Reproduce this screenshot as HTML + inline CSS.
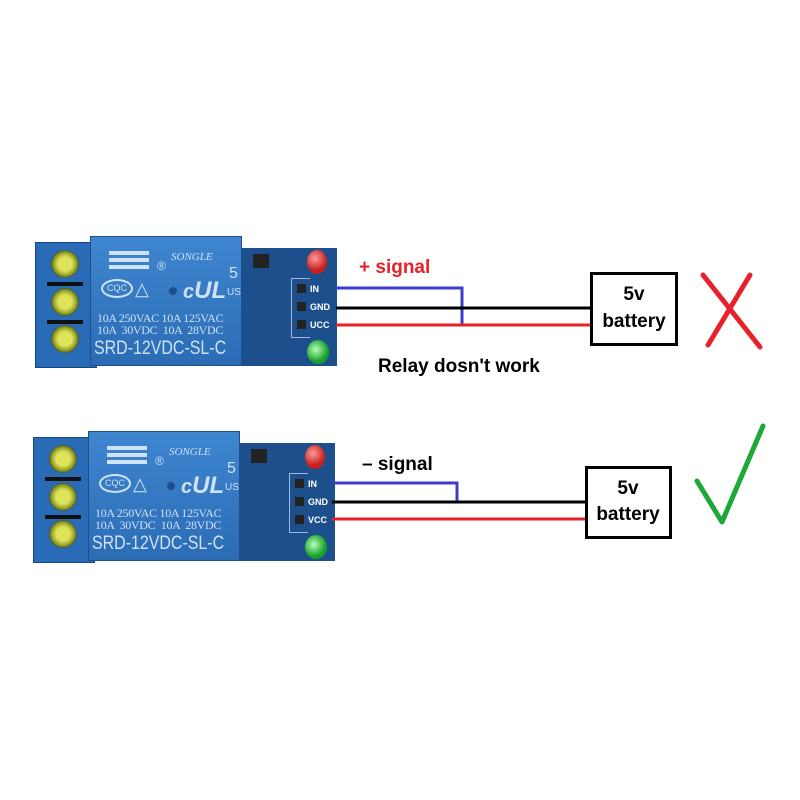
<!DOCTYPE html>
<html><head><meta charset="utf-8"><style>
body{margin:0;width:800px;height:800px;background:#fff;position:relative;overflow:hidden;font-family:"Liberation Sans",sans-serif}
.a{position:absolute}
.relay{position:absolute;width:305px;height:132px}
.pcb{left:200px;top:12px;width:102px;height:118px;background:#1d4f8c}
.term{left:0;top:6px;width:60px;height:124px;background:#2a6bb8;border:1px solid #15467f}
.screw{left:16px;width:28px;height:28px;border-radius:50%;background:radial-gradient(circle,#dfe35a 0 35%,#8a9a22 60%,#333 75%)}
.blk{left:55px;top:0;width:150px;height:128px;background:linear-gradient(#3f86d0,#2b6cb5);border:1px solid #1b4f8d;color:#cfe2f7;overflow:hidden}
.blk div{white-space:nowrap}
.pin{width:9px;height:9px;background:#222;left:262px}
.lab{font-size:9px;font-weight:bold;color:#fff;left:275px}
.hdr{left:256px;top:42px;width:18px;height:58px;border:1px solid #9fb8d8;border-right:none}
.sep{left:12px;width:36px;height:4px;background:#111}
</style></head><body>

<!-- TOP RELAY -->
<div class="relay" style="left:35px;top:236px">
  <div class="a pcb"></div>
  <div class="a term"></div>
  <div class="a sep" style="top:46px"></div><div class="a sep" style="top:84px"></div>
  <div class="a screw" style="top:14px"></div>
  <div class="a screw" style="top:52px"></div>
  <div class="a screw" style="top:89px"></div>
  <div class="a blk">
    <div class="a" style="left:18px;top:14px;width:40px;height:4px;background:#cfe2f7;box-shadow:0 7px #cfe2f7,0 14px #cfe2f7"></div>
    <div class="a" style="left:66px;top:22px;font-size:12px">®</div>
    <div class="a" style="left:80px;top:14px;font-size:11px;font-style:italic;font-family:'Liberation Serif',serif">SONGLE</div>
    <div class="a" style="left:10px;top:42px;width:28px;height:15px;border:2px solid #cfe2f7;border-radius:50%;font-size:9px;text-align:center;line-height:15px">CQC</div>
    <div class="a" style="left:44px;top:42px;font-size:18px">△</div>
    <div class="a" style="left:78px;top:50px;width:8px;height:8px;border-radius:50%;background:#1d4f8c"></div>
    <div class="a" style="left:92px;top:40px;font-size:20px;font-weight:bold;font-style:italic">c<span style="font-size:24px">UL</span></div>
    <div class="a" style="left:138px;top:28px;font-size:16px">5</div>
    <div class="a" style="left:136px;top:50px;font-size:10px">US</div>
    <div class="a" style="left:6px;top:75px;font-size:12px;font-family:'Liberation Serif',serif;line-height:12px;letter-spacing:-0.3px">10A 250VAC 10A 125VAC<br>10A &nbsp;30VDC &nbsp;10A &nbsp;28VDC</div>
    <div class="a" style="left:3px;top:101px;font-size:19px;transform:scaleX(0.84);transform-origin:left">SRD-12VDC-SL-C</div>
  </div>
  <div class="a" style="left:218px;top:18px;width:16px;height:14px;background:#222"></div>
  <div class="a" style="left:272px;top:14px;width:20px;height:24px;border-radius:50%;background:radial-gradient(circle at 40% 35%,#ff9a9a,#c8201f 60%)"></div>
  <div class="a" style="left:272px;top:104px;width:22px;height:24px;border-radius:50%;background:radial-gradient(circle at 40% 40%,#b8ffb8,#17a02a 60%)"></div>
  <div class="a hdr"></div>
  <div class="a pin" style="top:48px"></div><div class="a pin" style="top:66px"></div><div class="a pin" style="top:84px"></div>
  <div class="a lab" style="top:48px">IN</div><div class="a lab" style="top:66px">GND</div><div class="a lab" style="top:84px">UCC</div>
</div>

<!-- BOTTOM RELAY -->
<div class="relay" style="left:33px;top:431px">
  <div class="a pcb"></div>
  <div class="a term"></div>
  <div class="a sep" style="top:46px"></div><div class="a sep" style="top:84px"></div>
  <div class="a screw" style="top:14px"></div>
  <div class="a screw" style="top:52px"></div>
  <div class="a screw" style="top:89px"></div>
  <div class="a blk">
    <div class="a" style="left:18px;top:14px;width:40px;height:4px;background:#cfe2f7;box-shadow:0 7px #cfe2f7,0 14px #cfe2f7"></div>
    <div class="a" style="left:66px;top:22px;font-size:12px">®</div>
    <div class="a" style="left:80px;top:14px;font-size:11px;font-style:italic;font-family:'Liberation Serif',serif">SONGLE</div>
    <div class="a" style="left:10px;top:42px;width:28px;height:15px;border:2px solid #cfe2f7;border-radius:50%;font-size:9px;text-align:center;line-height:15px">CQC</div>
    <div class="a" style="left:44px;top:42px;font-size:18px">△</div>
    <div class="a" style="left:78px;top:50px;width:8px;height:8px;border-radius:50%;background:#1d4f8c"></div>
    <div class="a" style="left:92px;top:40px;font-size:20px;font-weight:bold;font-style:italic">c<span style="font-size:24px">UL</span></div>
    <div class="a" style="left:138px;top:28px;font-size:16px">5</div>
    <div class="a" style="left:136px;top:50px;font-size:10px">US</div>
    <div class="a" style="left:6px;top:75px;font-size:12px;font-family:'Liberation Serif',serif;line-height:12px;letter-spacing:-0.3px">10A 250VAC 10A 125VAC<br>10A &nbsp;30VDC &nbsp;10A &nbsp;28VDC</div>
    <div class="a" style="left:3px;top:101px;font-size:19px;transform:scaleX(0.84);transform-origin:left">SRD-12VDC-SL-C</div>
  </div>
  <div class="a" style="left:218px;top:18px;width:16px;height:14px;background:#222"></div>
  <div class="a" style="left:272px;top:14px;width:20px;height:24px;border-radius:50%;background:radial-gradient(circle at 40% 35%,#ff9a9a,#c8201f 60%)"></div>
  <div class="a" style="left:272px;top:104px;width:22px;height:24px;border-radius:50%;background:radial-gradient(circle at 40% 40%,#b8ffb8,#17a02a 60%)"></div>
  <div class="a hdr"></div>
  <div class="a pin" style="top:48px"></div><div class="a pin" style="top:66px"></div><div class="a pin" style="top:84px"></div>
  <div class="a lab" style="top:48px">IN</div><div class="a lab" style="top:66px">GND</div><div class="a lab" style="top:84px">VCC</div>
</div>

<svg class="a" style="left:0;top:0" width="800" height="800">
  <g fill="none" stroke-width="3">
    <polyline points="336,288 462,288 462,325" stroke="#3c3cc8"/>
    <line x1="336" y1="308" x2="591" y2="308" stroke="#000"/>
    <line x1="336" y1="325" x2="591" y2="325" stroke="#e8202a"/>
    <rect x="591.5" y="273.5" width="85" height="71" stroke="#000"/>
    <polyline points="332,483 457,483 457,502" stroke="#3c3cc8"/>
    <line x1="332" y1="502" x2="586" y2="502" stroke="#000"/>
    <line x1="332" y1="519" x2="586" y2="519" stroke="#e8202a"/>
    <rect x="586.5" y="467.5" width="84" height="70" stroke="#000"/>
  </g>
  <g stroke="#e8202a" stroke-width="5" stroke-linecap="round">
    <line x1="703" y1="275" x2="760" y2="347"/>
    <line x1="750" y1="275" x2="708" y2="345"/>
  </g>
  <polyline points="697,481 722,522 763,426" fill="none" stroke="#1fa83a" stroke-width="5" stroke-linecap="round" stroke-linejoin="round"/>
  <g font-family="Liberation Sans" font-weight="bold" text-anchor="middle" font-size="19">
    <text x="634" y="300">5v</text><text x="634" y="327">battery</text>
    <text x="628" y="494">5v</text><text x="628" y="520">battery</text>
  </g>
  <text x="359" y="273" font-family="Liberation Sans" font-weight="bold" font-size="19" fill="#e8202a">+ signal</text>
  <text x="362" y="470" font-family="Liberation Sans" font-weight="bold" font-size="19">– signal</text>
  <text x="378" y="372" font-family="Liberation Sans" font-weight="bold" font-size="19">Relay dosn't work</text>
</svg>
</body></html>
